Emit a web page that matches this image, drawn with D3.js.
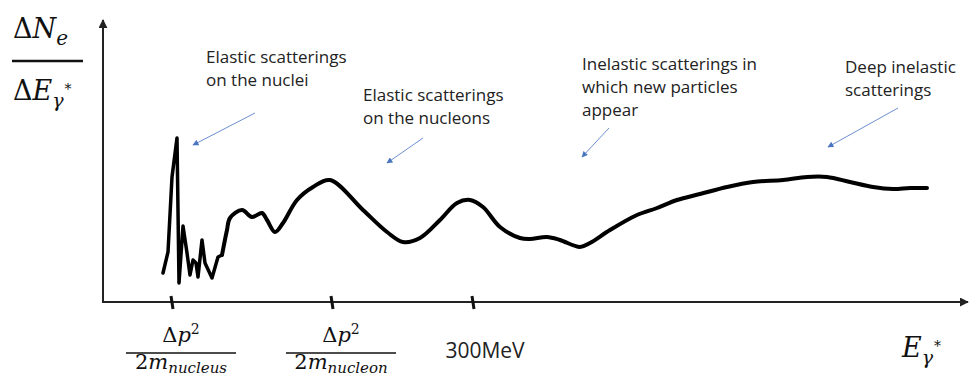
<!DOCTYPE html>
<meta charset="utf-8">
<style>
body { margin: 0; background: #fff; }
.note { font-family: "Open Sans", sans-serif; font-size: 17px; fill: #222; }
.math { font-family: "DejaVu Serif", serif; fill: #111; }
</style>
<body>
<script src="https://d3js.org/d3.v7.min.js"></script>
<script>
var width = 978,
    height = 381;

// spectrum, arbitrary units (x: photon energy, y: counts per energy bin)
var spikeX = [60, 65, 69, 74, 76, 80, 84, 87, 90, 93, 95, 99, 102, 109, 115, 119];
var spikeY = [29, 50, 125, 164, 19, 76, 49, 27, 42, 39, 25, 62, 39, 24, 45, 47];

var smoothX = [119, 124, 127, 139, 149, 159, 164, 172, 180, 194, 210, 227, 260, 284, 300, 317, 337, 354, 367, 380,
               397, 417, 427, 444, 457, 477, 487, 507, 534, 554, 574, 597, 624, 650, 680, 704, 724, 747, 770, 790, 807, 824];
var smoothY = [47, 72, 84, 92, 85, 89, 82, 70, 79, 102, 115, 122, 92, 70, 60, 64, 82, 99, 102, 95,
               75, 64, 63, 65, 62, 55, 59, 72, 87, 94, 102, 108, 115, 120, 122, 125, 125, 120, 115, 113, 114, 114];

var tickVals = [69, 229, 370];
var tickNames = ["nucleus", "nucleon", "300MeV"];

var notes = [
  ["Elastic scatterings", "on the nuclei"],
  ["Elastic scatterings", "on the nucleons"],
  ["Inelastic scatterings in", "which new particles", "appear"],
  ["Deep inelastic", "scatterings"]
];

var x = d3.scaleLinear().domain([0, 865]).range([103, 968]);
var y = d3.scaleLinear().domain([0, 280]).range([302, 22]);

var svg = d3.select("body").append("svg")
    .attr("width", width)
    .attr("height", height);

var defs = svg.append("defs");
defs.append("marker")
    .attr("id", "axhead")
    .attr("viewBox", "0 0 10 10")
    .attr("refX", 9).attr("refY", 5)
    .attr("markerWidth", 4.5).attr("markerHeight", 4.5)
    .attr("markerUnits", "strokeWidth")
    .attr("orient", "auto")
  .append("path")
    .attr("d", "M0,0L10,5L0,10z")
    .attr("fill", "#222");
defs.append("marker")
    .attr("id", "bluehead")
    .attr("viewBox", "0 0 10 10")
    .attr("refX", 9).attr("refY", 5)
    .attr("markerWidth", 7).attr("markerHeight", 6)
    .attr("markerUnits", "strokeWidth")
    .attr("orient", "auto")
  .append("path")
    .attr("d", "M0,0L10,5L0,10z")
    .attr("fill", "#4a76c0");

// axes
svg.append("line")
    .attr("x1", x(0)).attr("y1", y(0))
    .attr("x2", x(0)).attr("y2", y(282))
    .attr("stroke", "#222").attr("stroke-width", 2)
    .attr("marker-end", "url(#axhead)");
svg.append("line")
    .attr("x1", x(0) - 1).attr("y1", y(0))
    .attr("x2", x(865)).attr("y2", y(0))
    .attr("stroke", "#222").attr("stroke-width", 2)
    .attr("marker-end", "url(#axhead)");

// ticks
svg.selectAll(".tick")
    .data(tickVals)
  .enter().append("line")
    .attr("class", "tick")
    .attr("x1", function(d) { return x(d) - 1; })
    .attr("x2", function(d) { return x(d) + 1; })
    .attr("y1", y(0) - 6)
    .attr("y2", y(0) + 7)
    .attr("stroke", "#111")
    .attr("stroke-width", 3);

// tick labels
tickVals.forEach(function(v, i) {
  var cx = x(v) + 9;
  if (tickNames[i] === "300MeV") {
    svg.append("text")
        .attr("class", "note")
        .attr("x", cx + 3).attr("y", 358)
        .attr("text-anchor", "middle")
        .style("font-size", "21px")
        .text("300MeV");
    return;
  }
  var num = svg.append("text").attr("class", "math")
      .attr("x", cx).attr("y", 342)
      .attr("text-anchor", "middle")
      .style("font-size", "21px");
  num.append("tspan").text("Δ");
  num.append("tspan").style("font-style", "italic").text("p");
  num.append("tspan").attr("dy", -8).style("font-size", "14px").text("2");
  svg.append("line")
      .attr("x1", cx - 55).attr("x2", cx + 55)
      .attr("y1", 353).attr("y2", 353)
      .attr("stroke", "#111").attr("stroke-width", 1.6);
  var den = svg.append("text").attr("class", "math")
      .attr("x", cx).attr("y", 369)
      .attr("text-anchor", "middle")
      .style("font-size", "21px");
  den.append("tspan").text("2");
  den.append("tspan").style("font-style", "italic").text("m");
  den.append("tspan").attr("dy", 4).style("font-style", "italic").style("font-size", "15px").text(tickNames[i]);
});

// y label
var yn = svg.append("text").attr("class", "math")
    .attr("x", 13).attr("y", 38)
    .style("font-size", "27px");
yn.append("tspan").text("Δ");
yn.append("tspan").style("font-style", "italic").text("N");
yn.append("tspan").attr("dy", 7).style("font-style", "italic").style("font-size", "20px").text("e");
svg.append("line")
    .attr("x1", 12).attr("x2", 83)
    .attr("y1", 61).attr("y2", 61)
    .attr("stroke", "#111").attr("stroke-width", 2.5);
var yd = svg.append("text").attr("class", "math")
    .attr("x", 13).attr("y", 100)
    .style("font-size", "27px");
yd.append("tspan").text("Δ");
yd.append("tspan").style("font-style", "italic").text("E");
yd.append("tspan").attr("dy", 7).style("font-style", "italic").style("font-size", "19px").text("γ");
yd.append("tspan").attr("dy", -13).attr("dx", 1).style("font-size", "14px").text("*");

// x label
var xl = svg.append("text").attr("class", "math")
    .attr("x", 902).attr("y", 357)
    .style("font-size", "27px");
xl.append("tspan").style("font-style", "italic").text("E");
xl.append("tspan").attr("dy", 7).style("font-style", "italic").style("font-size", "19px").text("γ");
xl.append("tspan").attr("dy", -13).attr("dx", 1).style("font-size", "14px").text("*");

// curve
var spikeLine = d3.line()
    .x(function(d) { return x(d[0]); })
    .y(function(d) { return y(d[1]); })
    .curve(d3.curveLinear);
var smoothLine = d3.line()
    .x(function(d) { return x(d[0]); })
    .y(function(d) { return y(d[1]); })
    .curve(d3.curveCatmullRom.alpha(0.5));

svg.append("path")
    .datum(d3.zip(spikeX, spikeY))
    .attr("d", spikeLine)
    .attr("fill", "none").attr("stroke", "#000")
    .attr("stroke-width", 3.5).attr("stroke-linejoin", "round").attr("stroke-linecap", "round");
svg.append("path")
    .datum(d3.zip(smoothX, smoothY))
    .attr("d", smoothLine)
    .attr("fill", "none").attr("stroke", "#000")
    .attr("stroke-width", 4).attr("stroke-linejoin", "round").attr("stroke-linecap", "round");

// annotations (text anchor, arrow start, arrow end) in data units
var notePos = [
  {tx: 103, ty: 239, ax: 152, ay: 189, bx: 90, by: 157},
  {tx: 260, ty: 201, ax: 320, ay: 164, bx: 284, by: 139},
  {tx: 479, ty: 232, ax: 506, ay: 174, bx: 479, by: 145},
  {tx: 742, ty: 229, ax: 795, ay: 194, bx: 725, by: 155}
];

notes.forEach(function(lines, i) {
  var p = notePos[i];
  var t = svg.append("text").attr("class", "note")
      .attr("x", x(p.tx)).attr("y", y(p.ty));
  lines.forEach(function(s, j) {
    t.append("tspan").attr("x", x(p.tx)).attr("dy", j ? 23 : 0).text(s);
  });
  svg.append("line")
      .attr("x1", x(p.ax)).attr("y1", y(p.ay))
      .attr("x2", x(p.bx)).attr("y2", y(p.by))
      .attr("stroke", "#6d8fcf").attr("stroke-width", 1)
      .attr("marker-end", "url(#bluehead)");
});
</script>
</body>
</html>
